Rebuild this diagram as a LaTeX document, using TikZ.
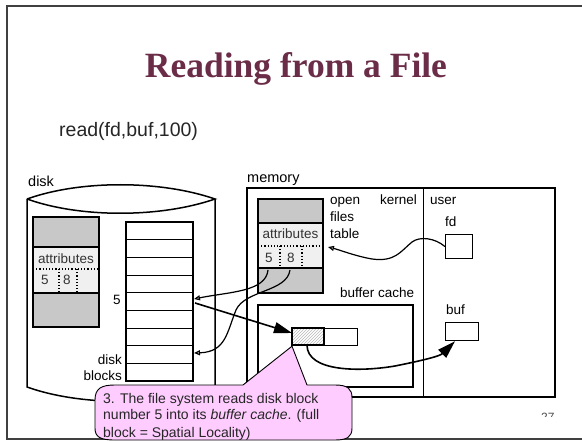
\documentclass[tikz,border=0pt]{standalone}
\usepackage{fontspec}
\setmainfont{Liberation Sans}
\newfontfamily\titlefont{Liberation Serif}
\usetikzlibrary{arrows.meta,patterns}
\definecolor{titlecol}{RGB}{107,44,72}
\definecolor{pinkfill}{RGB}{255,204,255}
\definecolor{lightcell}{RGB}{240,240,240}
\definecolor{graycell}{RGB}{200,200,200}
\definecolor{framecol}{RGB}{64,64,64}
\begin{document}
\begin{tikzpicture}[x=1pt,y=-1pt,
  lbl/.style={font=\fontsize{13.5}{16}\selectfont, inner sep=0pt},
  biglbl/.style={font=\fontsize{14.5}{17}\selectfont, inner sep=0pt},
  notetext/.style={font=\fontsize{14}{17}\selectfont, anchor=base west, inner sep=0pt, text=black!85},
  boxline/.style={line width=1.3pt},
  dotline/.style={line width=1.2pt, dotted},
  thinarrow/.style={line width=1.2pt, -{Triangle[open,length=6pt,width=5pt]}},
  fatarrow/.style={line width=1.6pt, -{Triangle[length=18pt,width=11pt]}},
  plainbox/.style={draw, line width=1.2pt, inner sep=0pt, anchor=north west, fill=white}]
\useasboundingbox (0,0) rectangle (582,441);
\fill[white] (0,0) rectangle (582,441);
% slide frame
\draw[framecol, line width=2.5pt] (582,6) -- (7,6) -- (7,439) -- (582,439);
% title and call
\node[font=\titlefont\bfseries\fontsize{35.5}{40}\selectfont, text=titlecol, anchor=base, inner sep=0pt] (title) at (296,78) {Reading from a File};
\node[font=\fontsize{19.5}{22}\selectfont, text=black!85, anchor=base west, inner sep=0pt] (call) at (59,137) {read(fd,buf,100)};
% ---- disk ----
\node[biglbl, anchor=base west] (disklbl) at (28,187) {disk};
\draw[line width=1.5pt] (27,199) .. controls (80,180) and (160,180) .. (215,199)
   .. controls (160,218) and (80,218) .. (27,199);
\draw[line width=1.5pt] (27,199) -- (27,387) .. controls (80,406) and (160,406) .. (215,388) -- (215,199);
% inode on disk
\fill[graycell] (33,217) rectangle (99,247);
\fill[lightcell] (33,247) rectangle (99,293);
\fill[graycell] (33,293) rectangle (99,327);
\draw[boxline] (33,217) rectangle (99,327);
\draw[boxline] (33,247) -- (99,247) (33,293) -- (99,293);
\draw[dotline] (33,269) -- (99,269) (59,269) -- (59,293) (77,269) -- (77,293);
\node[lbl, anchor=base, text=black!80] (dattr) at (66,264) {attributes};
\node[lbl, anchor=base, text=black!80] (d5) at (45,285) {5};
\node[lbl, anchor=base, text=black!80] (d8) at (67,285) {8};
% disk blocks
\foreach \i in {1,...,8} { \draw[line width=0.9pt] (126,{222+\i*17.67}) -- (193,{222+\i*17.67}); }
\draw[line width=1.8pt] (126,222) rectangle (193,381);
\node[lbl, anchor=base] (blk5lbl) at (117,305) {5};
\node[lbl, anchor=base east] (disklbl2) at (122,365) {disk};
\node[lbl, anchor=base east] (blockslbl) at (122,381) {blocks};
\coordinate (blk5in) at (194,299);
\coordinate (blk5out) at (195,303);
\coordinate (blk8in) at (194,353);
% ---- memory ----
\node[biglbl, anchor=base west] (memlbl) at (247,183) {memory};
\draw[line width=2pt] (247,188) rectangle (555,397);
\draw[line width=0.9pt] (423,188) -- (423,397);
% open files table
\fill[graycell] (258,199) rectangle (323,223);
\fill[lightcell] (258,223) rectangle (323,268);
\fill[graycell] (258,268) rectangle (323,293);
\draw[boxline] (258,199) rectangle (323,293);
\draw[boxline] (258,223) -- (323,223) (258,268) -- (323,268);
\draw[dotline] (258,246) -- (323,246) (280,246) -- (280,268) (302,246) -- (302,268);
\node[lbl, anchor=base, text=black!80] (tattr) at (290.5,239) {attributes};
\node[lbl, anchor=base, text=black!80] (t5) at (269,263) {5};
\node[lbl, anchor=base, text=black!80] (t8) at (291,263) {8};
\node[lbl, anchor=base west] (openlbl) at (330,205) {open};
\node[lbl, anchor=base west] (fileslbl) at (330,222) {files};
\node[lbl, anchor=base west] (tablelbl) at (330,239) {table};
\node[lbl, anchor=base east] (kernellbl) at (417,205) {kernel};
\node[lbl, anchor=base west] (userlbl) at (430,205) {user};
\coordinate (tabin) at (328,247);
\coordinate (tab5) at (268,270);
\coordinate (tab8) at (290,270);
% buffer cache
\node[lbl, anchor=base west] (bclbl) at (340,298) {buffer cache};
\draw[line width=1.5pt] (258,305) rectangle (413,387);
\node[plainbox, minimum width=32pt, minimum height=17pt, pattern=north east lines, pattern color=gray!55] (hatch) at (292,328) {};
\node[plainbox, minimum width=33pt, minimum height=17pt] (cachewhite) at (324,328) {};
\draw[line width=1.2pt] (292,328) rectangle (324,345);
% user side boxes
\node[lbl, anchor=base west] (fdlbl) at (445,227) {fd};
\node[plainbox, minimum width=27pt, minimum height=24pt] (fdbox) at (445,234) {};
\node[lbl, anchor=base west] (buflbl) at (446,315) {buf};
\node[plainbox, minimum width=33pt, minimum height=18pt] (bufbox) at (445,322) {};
% ---- arrows ----
\draw[thinarrow] (fdbox.west) .. controls (435,238) and (420,236) .. (412,242)
   .. controls (400,252) and (395,262) .. (372,259)
   .. controls (355,256) and (340,250) .. (tabin);
\draw[thinarrow] (tab5) .. controls (266,292) and (228,292) .. (blk5in);
\draw[thinarrow] (tab8) .. controls (287,292) and (245,290) .. (236,310)
   .. controls (227,332) and (226,352) .. (blk8in);
\draw[fatarrow] (blk5out) -- (hatch.west |- 0,333);
\draw[fatarrow] (307,345) .. controls (307,372) and (360,372) .. (395,366)
   .. controls (425,360) and (440,356) .. ([xshift=10pt]bufbox.south west);
% ---- callout ----
\draw[fill=pinkfill, line width=0.9pt] (95,400) .. controls (95,388) and (102,385) .. (115,385)
   -- (243,385) -- (hatch.south west) -- (307,385) -- (335,385)
   .. controls (348,385) and (352,389) .. (352,398) -- (352,428)
   .. controls (352,437) and (347,440) .. (335,440) -- (115,440)
   .. controls (100,440) and (95,437) .. (95,428) -- cycle;
\node[notetext] (note1) at (103,403) {3. The file system reads disk block};
\node[notetext] (note2) at (103,420) {number 5 into its \textit{buffer cache}. (full};
\node[notetext] (note3) at (103,437) {block = Spatial Locality)};
% page number, partly cut
\begin{scope}
\clip (530,405) rectangle (560,416.5);
\node[font=\fontsize{12}{14}\selectfont, text=black!70, anchor=base west, inner sep=0pt] (pagenum) at (541,421) {27};
\end{scope}
\end{tikzpicture}
\end{document}
